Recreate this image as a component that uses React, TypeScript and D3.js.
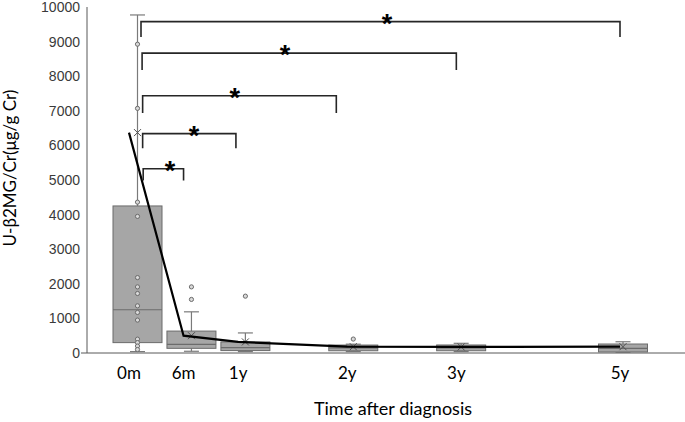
import React from "react";
import * as d3 from "d3";

const categories = ["0m", "6m", "1y", "2y", "3y", "5y"];
const positions = [0, 1, 2, 4, 6, 9];
const q1 = [300, 135, 70, 65, 65, 30];
const medians = [1250, 250, 155, 150, 150, 135];
const q3 = [4250, 634, 320, 230, 232, 260];
const whiskerLow = [40, 50, 40, 40, 40, 20];
const whiskerHigh = [9770, 1190, 580, 255, 280, 325];
const means = [6370, 500, 320, 182, 175, 182];
const points0m = [8925, 7070, 4360, 3948, 2180, 1911, 1720, 1363, 1172, 951, 400, 300, 200, 100];
const outliers = [[], [1911, 1548], [1643], [403], [], []];
const yTicks = [0, 1000, 2000, 3000, 4000, 5000, 6000, 7000, 8000, 9000, 10000];

// significance brackets: 0m vs target
const bracketStart = [0.26, 0.25, 0.25, 0.24, 0.22];
const bracketEnd = [1, 1.96, 3.8, 6, 9];
const bracketLevel = [5323, 6340, 7435, 8666, 9576];
const bracketDrop = [340, 420, 500, 490, 440];
const starPos = [0.75, 1.19, 1.94, 2.86, 4.73];
const starLabel = ["*", "*", "*", "*", "*"];

const W = 685;
const H = 422;

export default function App() {
  const y = d3.scaleLinear().domain([0, 10000]).range([353, 7]);
  const xBox = d3.scaleLinear().domain([0, 9]).range([137.5, 623]);
  const xCat = d3.scaleLinear().domain([0, 9]).range([129, 620]);
  const boxW = 49;
  const capW = 15;

  const line = d3
    .line<number>()
    .x((_, i) => xCat(positions[i]))
    .y((d) => y(d));

  const boxFill = "#a6a6a6";
  const boxStroke = "#6b6b6b";
  const whiskerC = "#7a7a7a";

  return (
    <svg width={W} height={H} style={{ position: "absolute", left: 0, top: 0 }}>
      <rect width={W} height={H} fill="#fff" />
      {/* y tick labels */}
      {yTicks.map((t) => (
        <text
          key={t}
          x={80}
          y={y(t) + 5}
          textAnchor="end"
          fontFamily="Liberation Sans, Arial, sans-serif"
          fontSize={14}
          fill="#3a3a3a"
        >
          {t}
        </text>
      ))}
      {/* axes */}
      <line x1={87} x2={87} y1={y(10000)} y2={y(0)} stroke="#595959" strokeWidth={1} />
      <line x1={81} x2={685} y1={y(0)} y2={y(0)} stroke="#595959" strokeWidth={1} />

      {/* boxes */}
      {categories.map((c, i) => {
        const cx = xBox(positions[i]);
        return (
          <g key={c}>
            <line x1={cx} x2={cx} y1={y(q3[i])} y2={y(whiskerHigh[i])} stroke={whiskerC} strokeWidth={1.2} />
            <line x1={cx - capW / 2} x2={cx + capW / 2} y1={y(whiskerHigh[i])} y2={y(whiskerHigh[i])} stroke={whiskerC} strokeWidth={1.2} />
            <line x1={cx} x2={cx} y1={y(q1[i])} y2={y(whiskerLow[i])} stroke={whiskerC} strokeWidth={1.2} />
            <line x1={cx - capW / 2} x2={cx + capW / 2} y1={y(whiskerLow[i])} y2={y(whiskerLow[i])} stroke={whiskerC} strokeWidth={1.2} />
            <rect
              x={cx - boxW / 2}
              y={y(q3[i])}
              width={boxW}
              height={y(q1[i]) - y(q3[i])}
              fill={boxFill}
              stroke={boxStroke}
              strokeWidth={1}
            />
            <line x1={cx - boxW / 2} x2={cx + boxW / 2} y1={y(medians[i])} y2={y(medians[i])} stroke={boxStroke} strokeWidth={1.2} />
            {outliers[i].map((v, j) => (
              <circle key={j} cx={cx} cy={y(v)} r={2.1} fill="#d9d9d9" stroke="#6b6b6b" strokeWidth={1} />
            ))}
            {i === 0 &&
              points0m.map((v, j) => (
                <circle key={"p" + j} cx={cx} cy={y(v)} r={2.1} fill="#d9d9d9" stroke="#6b6b6b" strokeWidth={1} />
              ))}
            <g stroke="#4d4d4d" strokeWidth={1}>
              <line x1={cx - 3.5} x2={cx + 3.5} y1={y(means[i]) - 3.5} y2={y(means[i]) + 3.5} />
              <line x1={cx - 3.5} x2={cx + 3.5} y1={y(means[i]) + 3.5} y2={y(means[i]) - 3.5} />
            </g>
          </g>
        );
      })}

      {/* trend line of means */}
      <path d={line(means) || ""} fill="none" stroke="#000" strokeWidth={2.2} />

      {/* significance brackets */}
      {bracketLevel.map((lv, i) => {
        const x1 = xCat(bracketStart[i]);
        const x2 = xCat(bracketEnd[i]);
        const yl = y(lv);
        const yd = y(lv - bracketDrop[i]);
        return (
          <g key={"b" + i}>
            <path
              d={`M${x1},${yd}V${yl}H${x2}V${yd}`}
              fill="none"
              stroke="#262626"
              strokeWidth={1.6}
            />
            <text
              x={xCat(starPos[i])}
              y={yl + 11}
              textAnchor="middle"
              fontFamily="Liberation Sans, Arial, sans-serif"
              fontWeight="bold"
              fontSize={27}
              fill="#000"
            >
              {starLabel[i]}
            </text>
          </g>
        );
      })}

      {/* x tick labels */}
      {categories.map((c, i) => (
        <text
          key={"l" + c}
          x={xCat(positions[i])}
          y={379}
          textAnchor="middle"
          fontFamily="Lato, 'Open Sans', sans-serif"
          fontSize={17}
          fill="#000"
        >
          {c}
        </text>
      ))}

      {/* axis titles */}
      <text
        x={393}
        y={415}
        textAnchor="middle"
        fontFamily="Lato, 'Open Sans', sans-serif"
        fontSize={18}
        fill="#000"
      >
        Time after diagnosis
      </text>
      <text
        transform={`translate(16,${168}) rotate(-90)`}
        textAnchor="middle"
        fontFamily="Lato, 'Open Sans', sans-serif"
        fontSize={17}
        fill="#000"
      >
        U-β2MG/Cr(μg/g Cr)
      </text>
    </svg>
  );
}
